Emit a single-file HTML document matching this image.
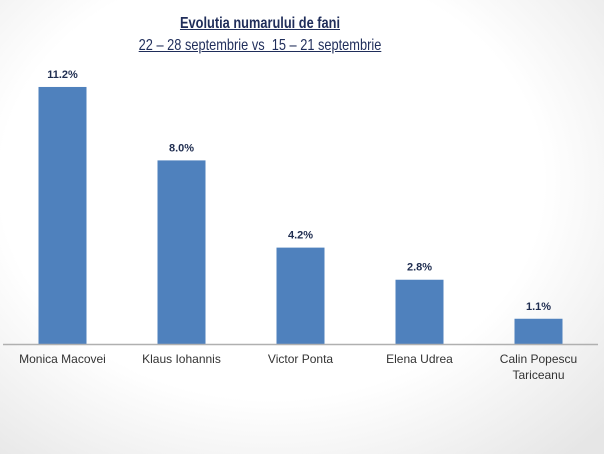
<!DOCTYPE html>
<html><head><meta charset="utf-8"><style>
body{margin:0;width:604px;height:454px;overflow:hidden;background:radial-gradient(ellipse 75% 80% at 45% 40%,#ffffff 60%,#e6e6e6 100%);font-family:"Liberation Sans",sans-serif}
.t{position:absolute;left:0;width:520px;text-align:center;color:#1f2d5a;font-size:16px;text-decoration:underline;transform:scaleX(0.8);transform-origin:260px 0}
</style></head><body>
<div class="t" style="top:15px;font-weight:bold">Evolutia numarului de fani</div>
<div class="t" style="top:37px">22 – 28 septembrie vs&nbsp; 15 – 21 septembrie</div>
<svg id="c" width="604" height="454" style="position:absolute;left:0;top:0"></svg>
<script>
const categories=[["Monica Macovei"],["Klaus Iohannis"],["Victor Ponta"],["Elena Udrea"],["Calin Popescu","Tariceanu"]];
const values=[11.2,8.0,4.2,2.8,1.1];
const valueLabels=["11.2%","8.0%","4.2%","2.8%","1.1%"];
const svg=document.getElementById('c'),NS="http://www.w3.org/2000/svg";
const x0=3,x1=598,base=344,pxPer=22.95,bw=48;
const step=(x1-x0)/categories.length;
const xc=i=>x0+step*(i+0.5);
const y=v=>base-v*pxPer;
function mk(t,a){const e=document.createElementNS(NS,t);for(const k in a)e.setAttribute(k,a[k]);svg.appendChild(e);return e;}
values.forEach((v,i)=>{
 const r=mk('rect',{x:xc(i)-bw/2,y:y(v),width:bw,height:base-y(v),fill:'#4f81bd'});
 
 
 const t=mk('text',{x:xc(i),y:y(v)-9,'text-anchor':'middle','font-size':'11','font-weight':'bold',fill:'#1f2d50'});
 t.textContent=valueLabels[i];
 
 
 categories[i].forEach((s,j)=>{
  const c=mk('text',{x:xc(i),y:base+19+j*16,'text-anchor':'middle','font-size':'12',fill:'#333','textLength':'','lengthAdjust':'spacingAndGlyphs'});
  c.removeAttribute('textLength');
  c.textContent=s;
  
  
 });
});
const ax=mk('line',{x1:x0,x2:x1,y1:base+0.5,y2:base+0.5,stroke:'#b0b0b0','stroke-width':1.5});


</script>
</body></html>
